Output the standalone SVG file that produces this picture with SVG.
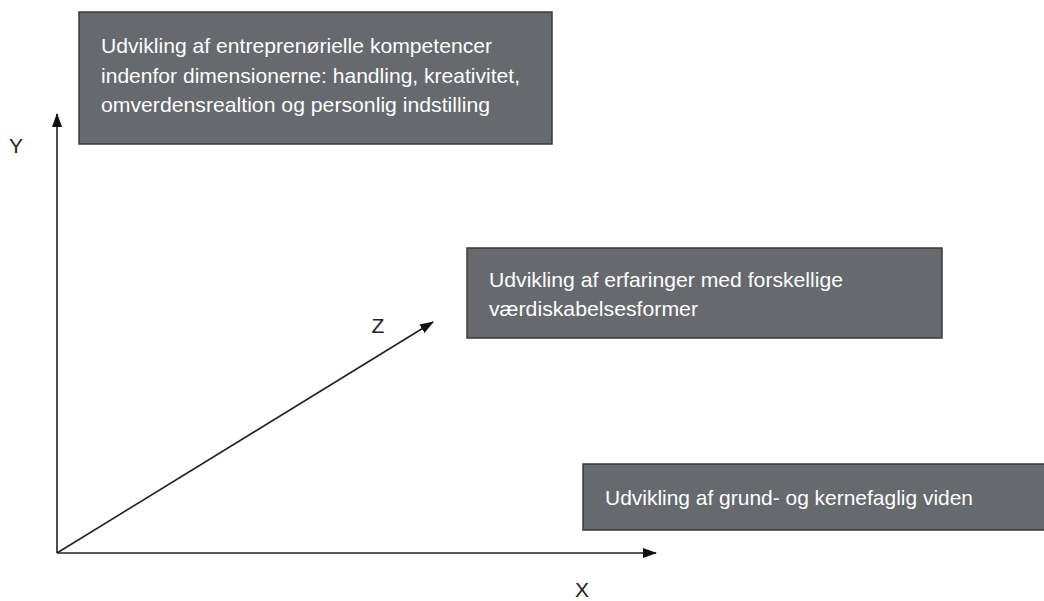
<svg xmlns="http://www.w3.org/2000/svg" width="1044" height="601" viewBox="0 0 1044 601">
<defs>
<style>
.box{fill:#66696d;stroke:#3a3a3a;stroke-width:1.5}
.bt{fill:#ffffff;font-family:"Liberation Sans",Arial,sans-serif;font-size:21px}
.ax{stroke:#222;stroke-width:1.6;fill:none}
.lab{fill:#222;font-family:"Liberation Sans",Arial,sans-serif;font-size:21px}
</style>
<marker id="ah" markerWidth="14" markerHeight="10" refX="13" refY="5" orient="auto" markerUnits="userSpaceOnUse">
<path d="M0,0 L14,5 L0,10 Z" fill="#111"/>
</marker>
</defs>
<rect width="1044" height="601" fill="#ffffff"/>
<g id="node-competencies">
<rect class="box" x="79" y="12" width="473" height="132"/>
<text class="bt" x="101" y="53" textLength="391" lengthAdjust="spacingAndGlyphs">Udvikling af entreprenørielle kompetencer</text>
<text class="bt" x="101" y="83" textLength="419" lengthAdjust="spacingAndGlyphs">indenfor dimensionerne: handling, kreativitet,</text>
<text class="bt" x="101" y="112" textLength="389" lengthAdjust="spacingAndGlyphs">omverdensrealtion og personlig indstilling</text>
</g>
<g id="node-experience">
<rect class="box" x="467" y="248" width="475" height="90"/>
<text class="bt" x="489" y="287" textLength="354" lengthAdjust="spacingAndGlyphs">Udvikling af erfaringer med forskellige</text>
<text class="bt" x="489" y="316" textLength="209" lengthAdjust="spacingAndGlyphs">værdiskabelsesformer</text>
</g>
<g id="node-knowledge">
<rect class="box" x="583" y="464" width="462" height="66"/>
<text class="bt" x="605" y="505" textLength="368" lengthAdjust="spacingAndGlyphs">Udvikling af grund- og kernefaglig viden</text>
</g>
<g id="connectors">
<line class="ax" x1="57" y1="553" x2="57" y2="114" marker-end="url(#ah)"/>
<line class="ax" x1="57" y1="553" x2="656" y2="553" marker-end="url(#ah)"/>
<line class="ax" x1="57" y1="553" x2="433" y2="322" marker-end="url(#ah)"/>
</g>
<g id="labels">
<text class="lab" x="16" y="153" text-anchor="middle">Y</text>
<text class="lab" x="378" y="333" text-anchor="middle">Z</text>
<text class="lab" x="582" y="597" text-anchor="middle">X</text>
</g>
</svg>
